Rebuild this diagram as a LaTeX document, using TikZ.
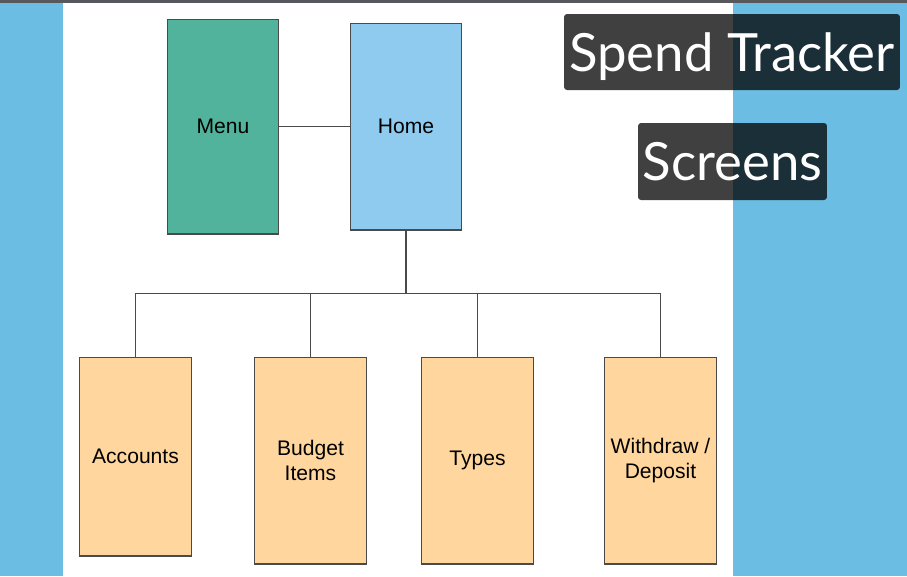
\documentclass[tikz,border=0pt]{standalone}
\usepackage{fontspec}
\setmainfont{Liberation Sans}
\newfontfamily\titlefont{Lato}
\usepackage{tikz}
\usetikzlibrary{calc}
\definecolor{slidebg}{HTML}{6CBDE3}
\definecolor{topbar}{HTML}{56585C}
\definecolor{menufill}{HTML}{52B39C}
\definecolor{homefill}{HTML}{8ECBEF}
\definecolor{pagefill}{HTML}{FFD69E}
\definecolor{edgegray}{HTML}{4A4A4A}

\tikzset{
  screen/.style={draw=edgegray, line width=0.6pt, minimum width=2.23cm,
    minimum height=4.14cm, align=center, inner sep=0pt,
    font=\fontsize{12}{14.5}\selectfont},
  link/.style={draw=edgegray, line width=0.6pt},
  banner/.style={fill=black, fill opacity=0.75, text opacity=1, text=white,
    rounded corners=0.06cm, inner sep=0pt, text depth=0pt,
    font=\titlefont\fontsize{30}{34}\selectfont}
}

\begin{document}
\begin{tikzpicture}[x=0.02cm, y=-0.02cm]
  \useasboundingbox (0,0) rectangle (907,576);

  % Slide background
  \fill[white] (0,0) rectangle (907,576);
  \fill[slidebg] (0,0) rectangle (63,576);
  \fill[slidebg] (733,0) rectangle (907,576);
  \fill[topbar] (0,0) rectangle (907,3);

  % Top level screens
  \node[screen, fill=menufill, minimum height=4.30cm] (menu) at (223,126.5) {Menu};
  \node[screen, fill=homefill] (home) at (406,126.5) {Home};

  % Pages below home
  \node[screen, fill=pagefill, minimum height=3.98cm] (accounts) at (135.5,456.5) {Accounts};
  \node[screen, fill=pagefill] (budget) at (310.5,460.5) {Budget\\Items};
  \node[screen, fill=pagefill] (types) at (477.5,460.5) {Types};
  \node[screen, fill=pagefill] (withdraw) at (660.5,460.5) {Withdraw /\\Deposit};

  % Connectors
  \draw[link] (menu.east) -- (home.west);
  \foreach \page in {accounts,budget,types,withdraw} {
    \draw[link] (home.south) |- ($(home.south)!0.5!(\page.north)$) -| (\page.north);
  }

  % Title
  \node[banner, minimum width=6.72cm, minimum height=1.52cm] (title) at (732,52) {Spend Tracker};
  \node[banner, minimum width=3.78cm, minimum height=1.54cm] (subtitle) at (732.5,161.5) {Screens};

\end{tikzpicture}
\end{document}
